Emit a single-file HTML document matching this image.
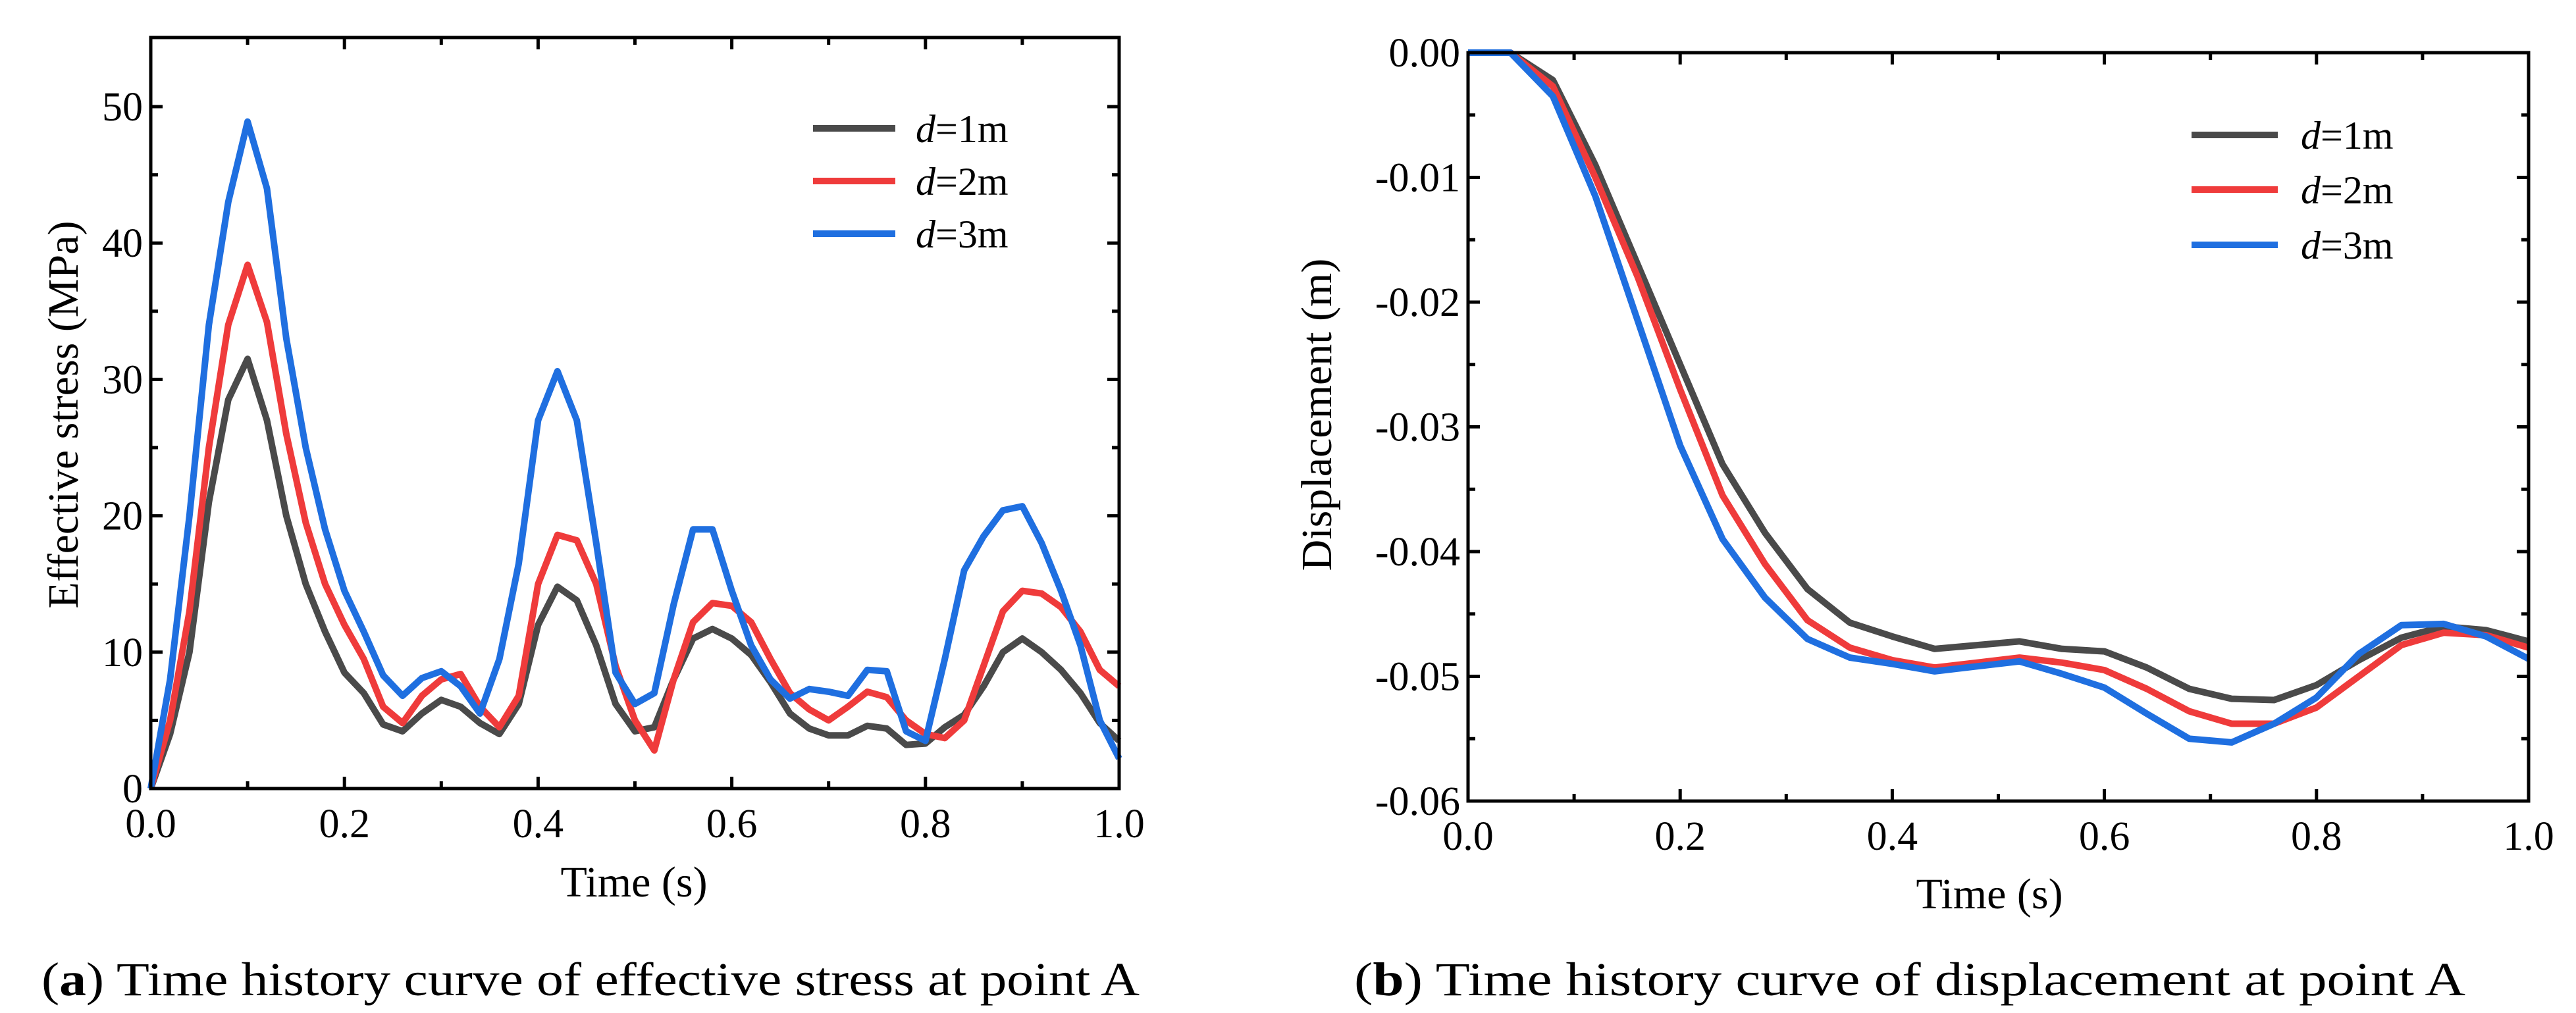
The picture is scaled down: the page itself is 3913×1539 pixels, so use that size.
<!DOCTYPE html>
<html><head><meta charset="utf-8"><style>
html,body{margin:0;padding:0;background:#fff;}
svg{display:block;font-family:"Liberation Serif",serif;}
</style></head><body>
<svg id="fig" width="3913" height="1539" viewBox="0 0 3913 1539" xmlns="http://www.w3.org/2000/svg"></svg>
<script>
const timeA = [];
for (let i = 0; i <= 50; i++) timeA.push(i * 0.02);
const stressD1 = [0,4,10,21,28.5,31.5,27,20,15,11.5,8.5,7,4.7,4.2,5.5,6.5,6,4.8,4,6.2,12,14.8,13.8,10.5,6.2,4.2,4.5,8,11,11.7,11,9.8,7.8,5.5,4.4,3.9,3.9,4.6,4.4,3.2,3.3,4.5,5.4,7.5,10,11,10,8.7,7,4.8,3.5];
const stressD2 = [0,5,13,25,34,38.4,34.2,26,19.5,15,12,9.5,6,4.8,6.8,8,8.4,6,4.5,6.8,15,18.6,18.2,15,9,5,2.8,8,12.2,13.6,13.4,12.2,9.5,7,5.8,5,6,7.1,6.7,5,4,3.7,5,9,13,14.5,14.3,13.3,11.5,8.7,7.5];
const stressD3 = [0,8,20,34,43,48.9,44,33,25,19,14.5,11.5,8.3,6.8,8.1,8.6,7.5,5.5,9.5,16.5,27,30.6,27,18,8.5,6.2,7,13.5,19,19,14.5,10.5,8,6.6,7.3,7.1,6.8,8.7,8.6,4.2,3.5,9.5,16,18.5,20.4,20.7,18,14.5,10.5,5,2.2];
const timeB = [];
for (let i = 0; i <= 25; i++) timeB.push(i * 0.04);
const dispD1 = [0,0,-0.0022,-0.009,-0.017,-0.025,-0.033,-0.0385,-0.043,-0.0457,-0.0468,-0.0478,-0.0475,-0.0472,-0.0478,-0.048,-0.0493,-0.051,-0.0518,-0.0519,-0.0507,-0.0487,-0.0469,-0.046,-0.0463,-0.0472];
const dispD2 = [0,0,-0.0027,-0.010,-0.018,-0.027,-0.0355,-0.041,-0.0455,-0.0477,-0.0487,-0.0493,-0.0489,-0.0485,-0.0489,-0.0495,-0.051,-0.0528,-0.0538,-0.0538,-0.0525,-0.05,-0.0475,-0.0465,-0.0467,-0.0477];
const dispD3 = [0,0,-0.0035,-0.0115,-0.0215,-0.0315,-0.039,-0.0437,-0.047,-0.0485,-0.049,-0.0496,-0.0492,-0.0488,-0.0498,-0.0509,-0.053,-0.055,-0.0553,-0.0538,-0.0517,-0.0482,-0.0459,-0.0458,-0.0468,-0.0486];
const xTicks = [0,0.2,0.4,0.6,0.8,1.0];
const xTickLabels = ["0.0","0.2","0.4","0.6","0.8","1.0"];
const yTicksA = [0,10,20,30,40,50];
const yTickLabelsA = ["0","10","20","30","40","50"];
const yTicksB = [0,-0.01,-0.02,-0.03,-0.04,-0.05,-0.06];
const yTickLabelsB = ["0.00","-0.01","-0.02","-0.03","-0.04","-0.05","-0.06"];
const legendLabels = ["=1m","=2m","=3m"];
const colors = ["#4a4a4a","#ef3b3b","#1f6fe0"];

const NS = "http://www.w3.org/2000/svg";
const svg = document.getElementById('fig');
function mk(tag, attrs, parent) {
  const e = document.createElementNS(NS, tag);
  for (const k in attrs) e.setAttribute(k, attrs[k]);
  (parent || svg).appendChild(e);
  return e;
}

function panel(cfg) {
  const g = mk('g', {});
  
  
  const L = cfg.L, R = cfg.R, T = cfg.T, B = cfg.B;
  const sx = v => L + (v - cfg.x0) / (cfg.x1 - cfg.x0) * (R - L);
  const sy = v => B - (v - cfg.y0) / (cfg.y1 - cfg.y0) * (B - T);
  // series
  cfg.series.forEach((s, i) => {
    const d = s.map((v, j) => (j ? 'L' : 'M') + sx(cfg.xs[j]).toFixed(1) + ' ' + sy(v).toFixed(1)).join(' ');
    const p = mk('path', {d: d, fill: 'none', stroke: colors[i], 'stroke-width': 10, 'stroke-linejoin': 'round'}, g);
    
    
  });
  // frame
  const fr = mk('rect', {x: L, y: T, width: R - L, height: B - T, fill: 'none', stroke: '#000', 'stroke-width': 5}, g);
  
  
  // x ticks
  for (let k = 0; k <= 10; k++) {
    const v = cfg.x0 + k * 0.1;
    const x = sx(v), len = (k % 2 === 0) ? 18 : 11;
    mk('line', {x1: x, y1: B, x2: x, y2: B - len, stroke: '#000', 'stroke-width': 5}, g);
    mk('line', {x1: x, y1: T, x2: x, y2: T + len, stroke: '#000', 'stroke-width': 5}, g);
  }
  xTicks.forEach((v, i) => {
    const t = mk('text', {x: sx(v), y: B + 74, 'font-size': 62, 'text-anchor': 'middle'}, g);
    t.textContent = xTickLabels[i];
    
    
  });
  // y ticks
  cfg.yMinor.forEach(v => {
    const y = sy(v);
    mk('line', {x1: L, y1: y, x2: L + 11, y2: y, stroke: '#000', 'stroke-width': 5}, g);
    mk('line', {x1: R, y1: y, x2: R - 11, y2: y, stroke: '#000', 'stroke-width': 5}, g);
  });
  cfg.yTicks.forEach((v, i) => {
    const y = sy(v);
    mk('line', {x1: L, y1: y, x2: L + 18, y2: y, stroke: '#000', 'stroke-width': 5}, g);
    mk('line', {x1: R, y1: y, x2: R - 18, y2: y, stroke: '#000', 'stroke-width': 5}, g);
    const t = mk('text', {x: L - 12, y: y + 21, 'font-size': 62, 'text-anchor': 'end'}, g);
    t.textContent = cfg.yLabels[i];
    
    
  });
  // axis titles
  const xt = mk('text', {x: cfg.xTitleX, y: cfg.xTitleY, 'font-size': 66, 'text-anchor': 'middle'}, g);
  xt.textContent = 'Time (s)';
  
  
  const yt = mk('text', {x: 0, y: 0, 'font-size': 66, 'text-anchor': 'middle', transform: 'translate(' + cfg.yTitleX + ',' + cfg.yTitleY + ') rotate(-90)'}, g);
  yt.textContent = cfg.yTitle;
  
  
  // legend
  legendLabels.forEach((lab, i) => {
    const y = cfg.legY[i];
    const ln = mk('line', {x1: cfg.legX1, y1: y, x2: cfg.legX2, y2: y, stroke: colors[i], 'stroke-width': 10}, g);
    
    
    const t = mk('text', {x: cfg.legTx, y: y + 21, 'font-size': 60}, g);
    
    
    const it = mk('tspan', {'font-style': 'italic'}, t);
    it.textContent = 'd';
    const rest = mk('tspan', {}, t);
    rest.textContent = lab;
  });
  // caption
  const c = mk('text', {x: cfg.capX, y: 1512, 'font-size': 72, textLength: cfg.capLen, lengthAdjust: 'spacingAndGlyphs'}, g);
  
  
  mk('tspan', {}, c).textContent = '(';
  mk('tspan', {'font-weight': 'bold'}, c).textContent = cfg.capLetter;
  mk('tspan', {}, c).textContent = ') ' + cfg.capText;
}

const minorA = []; for (let v = 5; v < 55; v += 10) minorA.push(v);
panel({
  name: 'effective-stress-chart', L: 229, R: 1700, T: 57, B: 1198,
  x0: 0, x1: 1, y0: 0, y1: 55.07, xs: timeA,
  series: [stressD1, stressD2, stressD3],
  yTicks: yTicksA, yLabels: yTickLabelsA, yMinor: minorA,
  xTitleX: 963, xTitleY: 1362, yTitleX: 118, yTitleY: 630,
  yTitle: 'Effective stress (MPa)',
  legX1: 1235, legX2: 1360, legTx: 1391, legY: [195, 275, 355],
  capX: 63, capLen: 1668, capLetter: 'a',
  capText: 'Time history curve of effective stress at point A'
});
const minorB = []; for (let k = 0; k < 6; k++) minorB.push(-0.005 - k * 0.01);
panel({
  name: 'displacement-chart', L: 2230, R: 3841, T: 80, B: 1217,
  x0: 0, x1: 1, y0: -0.06, y1: 0, xs: timeB,
  series: [dispD1, dispD2, dispD3],
  yTicks: yTicksB, yLabels: yTickLabelsB, yMinor: minorB,
  xTitleX: 3022, xTitleY: 1380, yTitleX: 2022, yTitleY: 630,
  yTitle: 'Displacement (m)',
  legX1: 3329, legX2: 3460, legTx: 3495, legY: [205, 288, 372],
  capX: 2057, capLen: 1688, capLetter: 'b',
  capText: 'Time history curve of displacement at point A'
});
</script>
</body></html>
